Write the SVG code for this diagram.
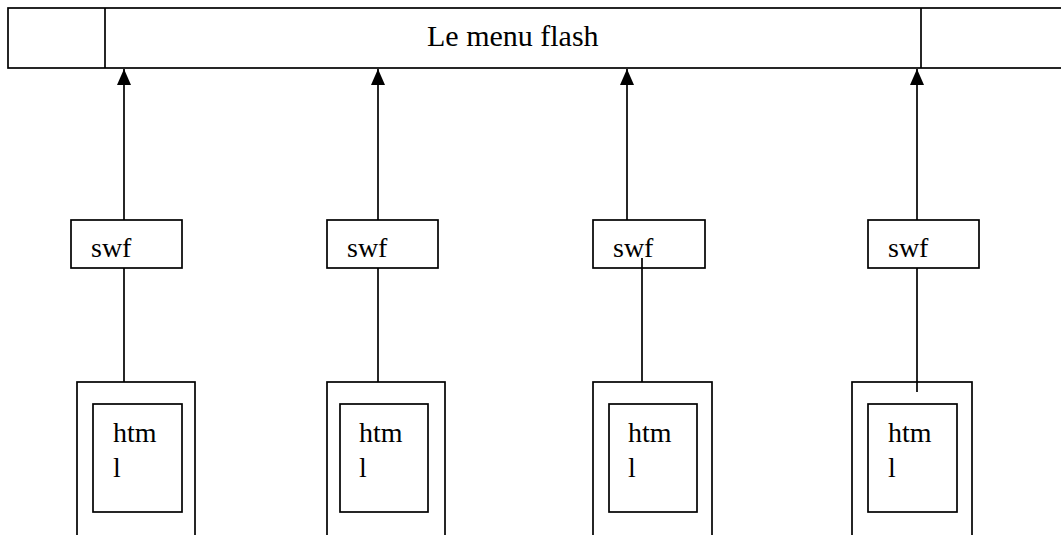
<svg xmlns="http://www.w3.org/2000/svg" width="1061" height="535" viewBox="0 0 1061 535">
  <style>
    .box { fill: #ffffff; stroke: #000000; stroke-width: 1.7; }
    .ln { stroke: #000000; stroke-width: 1.7; fill: none; }
    .txt { font-family: "Liberation Serif", "Times New Roman", serif; font-size: 28px; fill: #000000; }
    .title { font-size: 30px; }
  </style>
  <defs>
    <!-- filled triangular arrowhead, tip along the line direction -->
    <marker id="arrowHead" markerWidth="16" markerHeight="14" refX="16" refY="7" orient="auto" markerUnits="userSpaceOnUse" viewBox="0 0 16 14">
      <path d="M16 7 L0 0 L0 14 Z" fill="#000000"/>
    </marker>
  </defs>

  <rect width="1061" height="535" fill="#ffffff"/>

  <!-- top menu bar -->
  <g id="menu">
    <rect class="box" x="8" y="8" width="1060" height="60"/>
    <line class="ln" x1="105" y1="8" x2="105" y2="68"/>
    <line class="ln" x1="921" y1="8" x2="921" y2="68"/>
    <text class="txt title" x="427" y="46">Le menu flash</text>
  </g>

  <!-- swf nodes -->
  <g id="swf1">
    <rect class="box" x="71" y="220" width="111" height="48"/>
    <text class="txt" x="91" y="257">swf</text>
  </g>
  <g id="swf2">
    <rect class="box" x="327" y="220" width="111" height="48"/>
    <text class="txt" x="347" y="257">swf</text>
  </g>
  <g id="swf3">
    <rect class="box" x="593" y="220" width="112" height="48"/>
    <text class="txt" x="613" y="257">swf</text>
  </g>
  <g id="swf4">
    <rect class="box" x="868" y="220" width="111" height="48"/>
    <text class="txt" x="888" y="257">swf</text>
  </g>

  <!-- html pages -->
  <g id="html1">
    <rect class="box" x="77" y="382" width="118" height="170"/>
    <rect class="box" x="93" y="404" width="89" height="108"/>
    <text class="txt" x="113" y="442">htm</text>
    <text class="txt" x="113" y="477">l</text>
  </g>
  <g id="html2">
    <rect class="box" x="327" y="382" width="118" height="170"/>
    <rect class="box" x="340" y="404" width="88" height="108"/>
    <text class="txt" x="359" y="442">htm</text>
    <text class="txt" x="359" y="477">l</text>
  </g>
  <g id="html3">
    <rect class="box" x="593" y="382" width="119" height="170"/>
    <rect class="box" x="609" y="404" width="88" height="108"/>
    <text class="txt" x="628" y="442">htm</text>
    <text class="txt" x="628" y="477">l</text>
  </g>
  <g id="html4">
    <rect class="box" x="852" y="382" width="120" height="170"/>
    <rect class="box" x="868" y="404" width="89" height="108"/>
    <text class="txt" x="888" y="442">htm</text>
    <text class="txt" x="888" y="477">l</text>
  </g>

  <!-- connectors -->
  <g id="connectors">
    <line class="ln" x1="124" y1="220" x2="124" y2="69" marker-end="url(#arrowHead)"/>
    <line class="ln" x1="378" y1="220" x2="378" y2="69" marker-end="url(#arrowHead)"/>
    <line class="ln" x1="627" y1="220" x2="627" y2="69" marker-end="url(#arrowHead)"/>
    <line class="ln" x1="917" y1="220" x2="917" y2="69" marker-end="url(#arrowHead)"/>
    <line class="ln" x1="124" y1="268" x2="124" y2="382"/>
    <line class="ln" x1="378" y1="268" x2="378" y2="382"/>
    <line class="ln" x1="642" y1="258" x2="642" y2="382"/>
    <line class="ln" x1="917" y1="268" x2="917" y2="392"/>
  </g>
</svg>
